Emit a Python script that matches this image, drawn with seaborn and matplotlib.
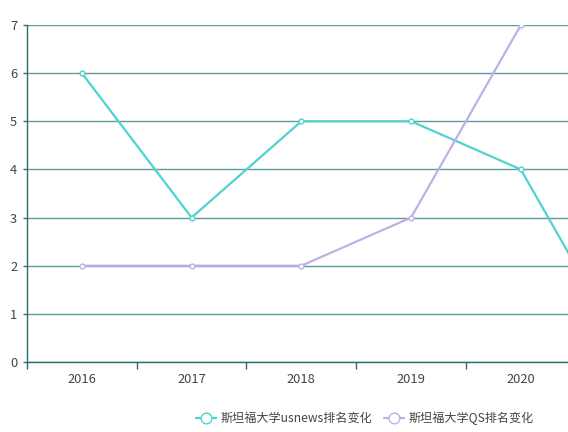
import matplotlib
matplotlib.use("Agg")
import matplotlib.pyplot as plt
import numpy as np
import pandas as pd
import seaborn as sns

years = ["2016", "2017", "2018", "2019", "2020", "2021"]
usnews_rank = [6, 3, 5, 5, 4, 0]
qs_rank = [2, 2, 2, 3, 7, np.nan]
series_names = ["斯坦福大学usnews排名变化", "斯坦福大学QS排名变化"]
colors = ["#4fd3cf", "#bdb1e3"]

sns.set_theme(style="white")
plt.rcParams["font.family"] = ["Noto Sans CJK SC", "DejaVu Sans"]

pos = np.arange(len(years))
df = pd.DataFrame({
    "pos": np.concatenate([pos, pos]),
    "rank": usnews_rank + qs_rank,
    "series": [series_names[0]] * len(years) + [series_names[1]] * len(years),
})

fig = plt.figure(figsize=(5.68, 4.32), dpi=100)
ax = fig.add_axes([27 / 568, 1 - 362 / 432, 1 - 27 / 568, (362 - 25) / 432])

ax.set_ylim(0, 7)
ax.set_yticks(range(0, 8))
ax.yaxis.grid(True, color="#5e9c9c", linewidth=1)
ax.set_axisbelow(True)

for name, c in zip(series_names, colors):
    sns.lineplot(data=df[df["series"] == name], x="pos", y="rank", ax=ax,
                 color=c, linewidth=1.6, marker="o", markersize=3.5,
                 markerfacecolor="white", markeredgecolor=c,
                 markeredgewidth=1.0, label=name)

ax.set_xlim(-0.5, 4.43)
ax.set_xticks(pos[:5])
ax.set_xticklabels(years[:5])
ax.set_xticks(np.arange(-0.5, 4.0, 1.0), minor=True)
ax.tick_params(axis="x", which="major", length=0, pad=8, labelsize=9.3, colors="#444444")
ax.tick_params(axis="x", which="minor", length=5, width=1, color="#2a6b6b", direction="out", bottom=True)
ax.tick_params(axis="y", length=3, width=1, color="#2a6b6b", labelsize=9.3, labelcolor="#444444", left=True, pad=4)
ax.set_xlabel("")
ax.set_ylabel("")

for s in ["top", "right"]:
    ax.spines[s].set_visible(False)
for s in ["left", "bottom"]:
    ax.spines[s].set_color("#2a6b6b")
    ax.spines[s].set_linewidth(1)

ax.get_legend().remove()
handles, labels = ax.get_legend_handles_labels()
fig.legend(handles, labels, loc="center", bbox_to_anchor=(365 / 568, 1 - 418 / 432),
           ncol=2, frameon=False, fontsize=8.7, handlelength=1.6, handletextpad=0.4,
           columnspacing=1.0, labelcolor="#444444", markerscale=2.2)

fig.savefig("out.png", dpi=100)
plt.close(fig)
